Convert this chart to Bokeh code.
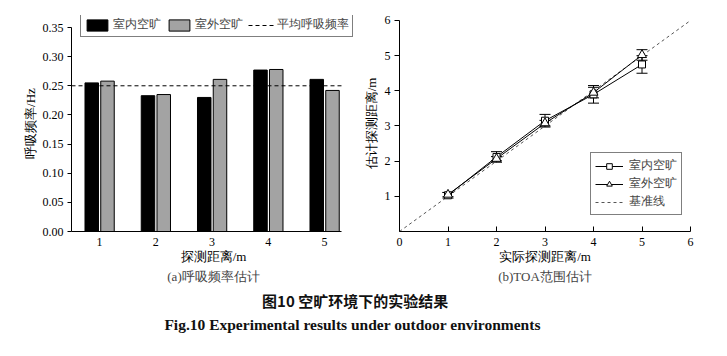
from bokeh.plotting import figure
from bokeh.models import (Range1d, Legend, LegendItem, Whisker, ColumnDataSource,
                          Title, FixedTicker, TeeHead)
from bokeh.layouts import column, row
from bokeh.embed import file_html
from bokeh.resources import INLINE
from bokeh.core.properties import value

# ---------------- data ----------------
distances = [1, 2, 3, 4, 5]
indoor_rate = [0.255, 0.233, 0.230, 0.277, 0.261]
outdoor_rate = [0.258, 0.235, 0.261, 0.278, 0.242]
avg_rate = 0.25
rate_ticks = [0.00, 0.05, 0.10, 0.15, 0.20, 0.25, 0.30, 0.35]

actual = [1, 2, 3, 4, 5]
indoor_est = [1.03, 2.12, 3.15, 3.90, 4.75]
indoor_err = [0.08, 0.15, 0.18, 0.25, 0.25]
outdoor_est = [1.05, 2.07, 3.08, 3.95, 5.02]
outdoor_err = [0.06, 0.06, 0.08, 0.15, 0.15]
baseline = [0, 6]

SERIF = "Liberation Serif"
FS = "12px"


def style_axes(p):
    for ax in (p.xaxis[0], p.yaxis[0]):
        ax.axis_line_color = "black"
        ax.major_tick_line_color = "black"
        ax.minor_tick_line_color = None
        ax.major_label_text_font = SERIF
        ax.major_label_text_font_size = FS
        ax.major_label_text_color = "black"
        ax.major_label_standoff = 4
        ax.axis_label_text_font = SERIF
        ax.axis_label_text_font_size = "13px"
        ax.axis_label_text_font_style = "normal"
        ax.axis_label_text_color = "black"
    p.xaxis.major_label_standoff = 6
    p.grid.visible = False
    p.outline_line_color = None
    p.background_fill_color = "white"
    p.border_fill_color = "white"


def subtitle(text):
    return Title(text=text, align="center", text_font=SERIF, text_font_size="13px",
                 text_font_style="normal", standoff=0, offset=0)


# ---------------- left: breathing rate ----------------
bar_x_end = 5.3
p1 = figure(width=357, height=290, output_backend="svg", toolbar_location=None,
            x_range=Range1d(0.5, 5.549), y_range=Range1d(0, 0.3706),
            min_border_left=71, min_border_right=2, min_border_top=15,
            min_border_bottom=59)
style_axes(p1)
p1.xaxis.ticker = FixedTicker(ticks=distances)
p1.xaxis.bounds = (0.5, bar_x_end)
p1.yaxis.ticker = FixedTicker(ticks=rate_ticks)
p1.yaxis.major_label_overrides = {t: "%.2f" % t for t in rate_ticks}
p1.yaxis.bounds = (0, 0.35)
p1.xaxis.major_tick_out = 0
p1.xaxis.major_tick_in = 0
p1.yaxis.major_tick_out = 4
p1.yaxis.major_tick_in = 0
p1.xaxis.axis_label = "探测距离/m"
p1.yaxis.axis_label = "呼吸频率/Hz"
p1.xaxis.axis_label_standoff = 0
p1.yaxis.axis_label_standoff = 2

xb1 = [d - 0.14 for d in distances]
xb2 = [d + 0.14 for d in distances]
r_in = p1.vbar(x=xb1, top=indoor_rate, width=0.24, fill_color="black", line_color="black")
r_out = p1.vbar(x=xb2, top=outdoor_rate, width=0.24, fill_color="#a3a3a3", line_color="black")
r_avg = p1.line(x=[p1.x_range.start, bar_x_end], y=[avg_rate, avg_rate],
                line_color="black", line_dash="4 3", line_width=1)

leg1 = Legend(items=[LegendItem(label="室内空旷", renderers=[r_in]),
                     LegendItem(label="室外空旷", renderers=[r_out]),
                     LegendItem(label="平均呼吸频率", renderers=[r_avg])],
              orientation="horizontal", location=(9, 194),
              border_line_color="black", border_line_width=1,
              background_fill_color="white", background_fill_alpha=1,
              label_text_font=SERIF, label_text_font_size="12px",
              glyph_width=26, glyph_height=14, spacing=5, label_standoff=3,
              padding=3, margin=0)
p1.add_layout(leg1)
p1.add_layout(subtitle("(a)呼吸频率估计"), "below")

# ---------------- right: TOA range ----------------
p2 = figure(width=370, height=290, output_backend="svg", toolbar_location=None,
            x_range=Range1d(0, 6), y_range=Range1d(0, 6.142),
            min_border_left=42, min_border_right=37, min_border_top=15,
            min_border_bottom=59)
style_axes(p2)
p2.xaxis.ticker = FixedTicker(ticks=[0, 1, 2, 3, 4, 5, 6])
p2.yaxis.ticker = FixedTicker(ticks=[1, 2, 3, 4, 5, 6])
p2.yaxis.bounds = (0, 6)
p2.xaxis.major_tick_out = 0
p2.xaxis.major_tick_in = 5
p2.yaxis.major_tick_out = 5
p2.yaxis.major_tick_in = 0
p2.xaxis.axis_label = "实际探测距离/m"
p2.yaxis.axis_label = "估计探测距离/m"
p2.xaxis.axis_label_standoff = 0
p2.yaxis.axis_label_standoff = 3

r_base = p2.line(x=baseline, y=baseline, line_color="#555555", line_dash="3 3", line_width=1)

src_in = ColumnDataSource(dict(x=actual, y=indoor_est,
                               lo=[v - e for v, e in zip(indoor_est, indoor_err)],
                               hi=[v + e for v, e in zip(indoor_est, indoor_err)]))
src_out = ColumnDataSource(dict(x=actual, y=outdoor_est,
                                lo=[v - e for v, e in zip(outdoor_est, outdoor_err)],
                                hi=[v + e for v, e in zip(outdoor_est, outdoor_err)]))

l_in = p2.line(x="x", y="y", source=src_in, line_color="black", line_width=1)
l_out = p2.line(x="x", y="y", source=src_out, line_color="black", line_width=1)
for s in (src_in, src_out):
    p2.add_layout(Whisker(source=s, base="x", lower="lo", upper="hi",
                          line_color="black", line_width=1,
                          lower_head=TeeHead(size=11, line_color="black"),
                          upper_head=TeeHead(size=11, line_color="black")))
m_in = p2.scatter(x="x", y="y", source=src_in, marker="square", size=7,
                  fill_color="white", line_color="black")
m_out = p2.scatter(x="x", y="y", source=src_out, marker="triangle", size=9,
                   fill_color="white", line_color="black")

leg2 = Legend(items=[LegendItem(label="室内空旷", renderers=[l_in, m_in]),
                     LegendItem(label="室外空旷", renderers=[l_out, m_out]),
                     LegendItem(label="基准线", renderers=[r_base])],
              location=(191, 16),
              border_line_color="black", border_line_width=1,
              background_fill_color="white", background_fill_alpha=1,
              label_text_font=SERIF, label_text_font_size="12px",
              glyph_width=28, glyph_height=14, spacing=1, label_standoff=6,
              padding=4, margin=0)
p2.add_layout(leg2)
p2.add_layout(subtitle("(b)TOA范围估计"), "below")

# ---------------- captions ----------------
cap = figure(width=727, height=66, output_backend="svg", toolbar_location=None,
             x_range=Range1d(0, 727), y_range=Range1d(0, 66),
             min_border=0)
cap.axis.visible = False
cap.grid.visible = False
cap.outline_line_color = None
cap.text(x=[358], y=[56], text=["图10   空旷环境下的实验结果"],
         text_font=value("Noto Sans CJK SC"), text_font_size="15px",
         text_font_style="bold", text_align="center", text_baseline="middle",
         text_color="#111111")
cap.text(x=[358], y=[32], text=["Fig.10    Experimental results under outdoor environments"],
         text_font=value(SERIF), text_font_size="15.5px",
         text_font_style="bold", text_align="center", text_baseline="middle",
         text_color="#111111")

layout = column(row(p1, p2), cap)
open("out.html", "w").write(file_html(layout, INLINE))
